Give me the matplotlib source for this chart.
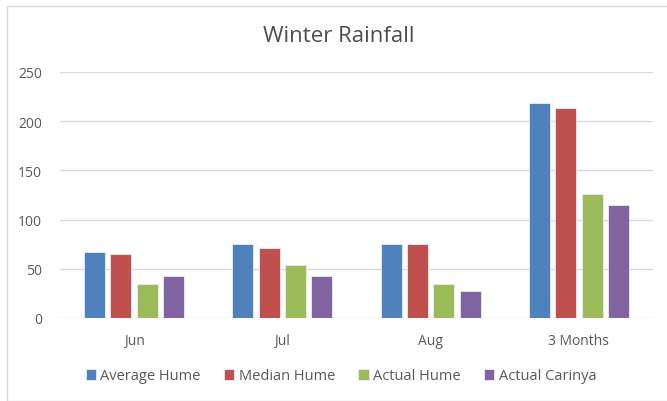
import numpy as np
from matplotlib import pyplot as plt
from matplotlib.patches import Rectangle

## data
categories = ['Jun', 'Jul', 'Aug', '3 Months']
series_names = ['Average Hume', 'Median Hume', 'Actual Hume', 'Actual Carinya']
average_hume = [67, 75, 75, 218]
median_hume = [65.5, 71, 75, 213]
actual_hume = [35, 54, 35, 126]
actual_carinya = [43, 43, 27.5, 114.5]
colors = ['#4F81BD', '#C0504D', '#9BBB59', '#8064A2']

plt.rcParams['font.family'] = ['Open Sans', 'DejaVu Sans']

fig = plt.figure(figsize=(6.67, 4.02), dpi=100)
ax = fig.add_axes([60/667, 1-319/402, 593/667, 246/402])

x = np.arange(len(categories))
width = 0.142
step = 0.178
all_series = [average_hume, median_hume, actual_hume, actual_carinya]
for i, (vals, name) in enumerate(zip(all_series, series_names)):
    ax.bar(x + (i - 1.5)*step, vals, width, color=colors[i], label=name,
           edgecolor='#E8EEF7', linewidth=0.6, zorder=3)

ax.set_xlim(-0.5, 3.5)
ax.set_ylim(0, 250)
ax.set_yticks([0, 50, 100, 150, 200, 250])
ax.set_xticks(x)
ax.set_xticklabels(categories)
ax.yaxis.grid(True, color='#D9D9D9', linewidth=1, zorder=0)
ax.tick_params(axis='both', length=0, labelsize=10, labelcolor='#595959')
ax.tick_params(axis='y', pad=13)
ax.tick_params(axis='x', pad=11)
for s in ax.spines.values():
    s.set_visible(False)

fig.text(339/667, 1-37/402, 'Winter Rainfall', ha='center', va='center',
         fontsize=16, color='#4D4D4D')

leg = fig.legend(loc='center', bbox_to_anchor=(341/667, 1-377/402), ncol=4, frameon=False,
                 fontsize=10.5, handlelength=0.7, handleheight=0.7, handletextpad=0.3,
                 columnspacing=1.6)
for t in leg.get_texts():
    t.set_color('#595959')

fig.patches.append(Rectangle((7/667, 0), 1, 1-7/402, transform=fig.transFigure,
                             fill=False, edgecolor='#D9D9D9', linewidth=1))

plt.savefig('out.png', dpi=100)
